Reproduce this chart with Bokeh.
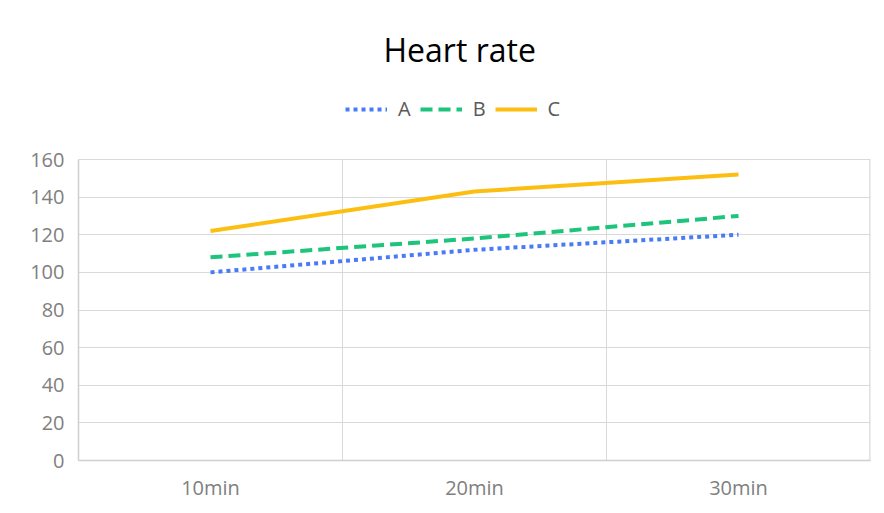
from bokeh.plotting import figure
from bokeh.models import (Range1d, FixedTicker, Legend, LegendItem, Title,
                          ColumnDataSource)
from bokeh.embed import file_html
from bokeh.resources import INLINE

categories = ["10min", "20min", "30min"]
series_a = [100, 112, 120]
series_b = [108, 118, 130]
series_c = [122, 143, 152]
y_ticks = [0, 20, 40, 60, 80, 100, 120, 140, 160]
y_max = 160

FONT = "Open Sans"
GRID = "#d9d9d9"

# layout (pixels)
W, H = 876, 505
LEFT, RIGHT_EDGE = 78, 870
FRAME_TOP, AXIS_TOP, AXIS_BOTTOM = 80, 159, 460
# extend the y range so the area above 160 holds the legend
y_top = y_max * (AXIS_BOTTOM - FRAME_TOP) / (AXIS_BOTTOM - AXIS_TOP)

xs = [i + 0.5 for i in range(len(categories))]
bounds_x = [i + 1 for i in range(len(categories))]

p = figure(width=W, height=H, output_backend="svg", toolbar_location=None,
           x_range=Range1d(0, len(categories)), y_range=Range1d(0, y_top),
           min_border_left=LEFT, min_border_right=W - RIGHT_EDGE,
           min_border_bottom=H - AXIS_BOTTOM, min_border_top=FRAME_TOP,
           title=None)
p.background_fill_color = "white"
p.border_fill_color = "white"
p.outline_line_color = None

# axes
p.xaxis.ticker = FixedTicker(ticks=xs)
p.xaxis.major_label_overrides = {x: c for x, c in zip(xs, categories)}
p.yaxis.ticker = FixedTicker(ticks=y_ticks)
p.yaxis.bounds = (0, y_max)
for ax in (p.xaxis[0], p.yaxis[0]):
    ax.axis_line_color = "#cfcfcf"
    ax.axis_line_width = 1.5
    ax.major_tick_line_color = None
    ax.minor_tick_line_color = None
    ax.major_label_text_font = FONT
    ax.major_label_text_font_size = "20px"
    ax.major_label_text_color = "#808080"
p.xaxis.major_label_standoff = 7
p.yaxis.major_label_standoff = 8

p.xgrid.visible = False
p.ygrid.grid_line_color = GRID

# category separators (and right border of the plot area)
p.segment(x0=bounds_x, y0=[0] * len(bounds_x), x1=bounds_x,
          y1=[y_max] * len(bounds_x), line_color=GRID,
          line_width=[1, 1, 2.5])

src = ColumnDataSource(dict(x=xs, a=series_a, b=series_b, c=series_c))
ra = p.line("x", "a", source=src, line_color="#4a7bf7", line_width=4,
            line_dash="4 4", line_cap="butt")
rb = p.line("x", "b", source=src, line_color="#1dc47b", line_width=4,
            line_dash="12 6", line_cap="butt")
rc = p.line("x", "c", source=src, line_color="#fdbe12", line_width=4)

legend = Legend(items=[LegendItem(label="A", renderers=[ra]),
                       LegendItem(label="B", renderers=[rb]),
                       LegendItem(label="C", renderers=[rc])],
                orientation="horizontal", location=(345 - LEFT, AXIS_BOTTOM - 122),
                glyph_width=42, glyph_height=20, label_standoff=11, spacing=9,
                label_width=12, label_height=20,
                label_text_font=FONT, label_text_font_size="20px",
                label_text_color="#595959", border_line_alpha=0,
                background_fill_alpha=0, padding=0, margin=0)
p.add_layout(legend, "center")

title = Title(text="Heart rate", align="left", offset=383 - LEFT, text_font=FONT,
              text_font_size="32px", text_font_style="normal",
              text_color="#000000", standoff=19)
p.add_layout(title, "above")

open("out.html", "w").write(file_html(p, INLINE))
